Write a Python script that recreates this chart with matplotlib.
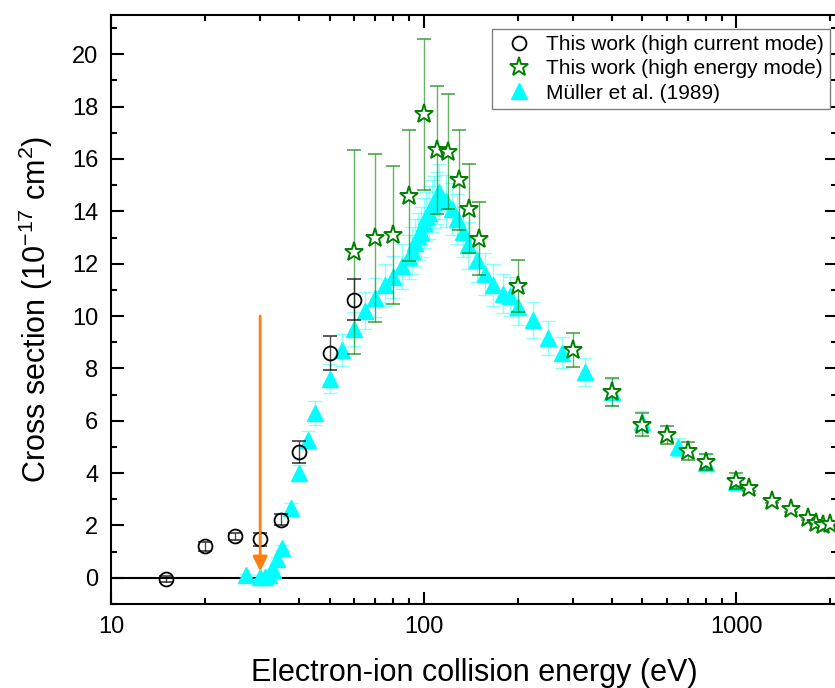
import matplotlib
matplotlib.use("Agg")
import matplotlib.pyplot as plt
from matplotlib.ticker import MultipleLocator, LogLocator, NullFormatter

plt.rcParams['font.family'] = ['Liberation Sans', 'DejaVu Sans']
plt.rcParams['mathtext.fontset'] = 'custom'
plt.rcParams['mathtext.rm'] = 'Liberation Sans'
plt.rcParams['mathtext.it'] = 'Liberation Sans:italic'

# this work, high current mode
hc_E = [15, 20, 25, 30, 35, 40, 50, 60]
hc_s = [-0.05, 1.2, 1.58, 1.48, 2.22, 4.8, 8.6, 10.62]
hc_err = [0.12, 0.18, 0.15, 0.25, 0.2, 0.42, 0.65, 0.78]

# this work, high energy mode
he_E = [60, 70, 80, 90, 100, 110, 120, 130, 140, 150, 200, 300, 400, 500, 600,
        700, 800, 1000, 1100, 1300, 1500, 1700, 1800, 1900, 2000]
he_s = [12.44, 12.98, 13.1, 14.6, 17.7, 16.35, 16.28, 15.2, 14.1, 12.95, 11.15,
        8.7, 7.1, 5.85, 5.45, 4.85, 4.43, 3.7, 3.42, 2.94, 2.63, 2.3, 2.1, 2.02, 2.05]
he_err = [3.9, 3.2, 2.65, 2.5, 2.9, 2.45, 2.2, 1.9, 1.7, 1.4, 1.0, 0.65, 0.55,
          0.45, 0.35, 0.35, 0.3, 0.3, 0.1, 0.1, 0.1, 0.1, 0.1, 0.1, 0.1]

# Muller et al. (1989)
mu_E = [27, 30, 31, 32, 33, 34, 35.3, 37.7, 40, 42.7, 45, 50, 55, 60, 65, 70, 75,
        80, 85, 90, 92, 94, 96, 98, 100, 102, 104, 106, 108, 110, 112, 118, 123,
        128, 134, 139, 148, 157, 167, 180, 189, 200, 223, 250, 278, 329, 400, 500,
        650, 800, 1000]
mu_s = [0.1, 0.05, 0.05, 0.1, 0.3, 0.7, 1.15, 2.67, 4.0, 5.27, 6.3, 7.6, 8.7, 9.5,
        10.2, 10.7, 11.2, 11.5, 11.9, 12.25, 12.5, 12.8, 13.05, 13.2, 13.55, 13.8,
        13.95, 14.2, 14.35, 14.5, 14.75, 14.4, 14.1, 13.7, 13.2, 12.7, 12.15, 11.6,
        11.2, 10.85, 10.75, 10.35, 9.85, 9.15, 8.6, 7.86, 7.1, 5.95, 5.0, 4.4, 3.66]
mu_err = [0.05, 0.05, 0.05, 0.05, 0.05, 0.08, 0.1, 0.2, 0.3, 0.35, 0.45, 0.55, 0.6,
          0.65, 0.7, 0.75, 0.8, 0.8, 0.85, 0.85, 0.9, 0.9, 0.9, 0.95, 0.95, 0.95,
          1.0, 1.0, 1.0, 1.0, 1.05, 1.0, 1.0, 0.95, 0.95, 0.9, 0.85, 0.8, 0.8, 0.75,
          0.75, 0.7, 0.7, 0.65, 0.6, 0.55, 0.5, 0.42, 0.36, 0.32, 0.27]

fig = plt.figure(figsize=(8.35, 6.88), dpi=100)
ax = fig.add_axes([0.1329, 0.1221, 0.8695, 0.8561])

ax.axhline(0, color='black', lw=1.5, zorder=1)

mu = ax.errorbar(mu_E, mu_s, yerr=mu_err, fmt='^', color='cyan', ms=12, mec='cyan',
                 ecolor=(0, 1, 1, 0.45), elinewidth=1, capsize=5, capthick=1,
                 zorder=3)
he = ax.errorbar(he_E, he_s, yerr=he_err, fmt='*', ms=14, mfc='white', mec='green',
                 mew=1.4, ecolor=(0, 0.5, 0, 0.6), elinewidth=1, capsize=5,
                 capthick=1, zorder=4)
hc = ax.errorbar(hc_E, hc_s, yerr=hc_err, fmt='o', ms=10, mfc='none', mec='black',
                 mew=1.3, ecolor=(0, 0, 0, 0.7), elinewidth=1, capsize=5,
                 capthick=1, zorder=5)

ax.annotate('', xy=(30, 0.25), xytext=(30, 10),
            arrowprops=dict(arrowstyle='-|>', color='#ff7f0e', lw=2,
                            mutation_scale=22, shrinkA=0, shrinkB=0), zorder=6)

ax.set_xscale('log')
ax.set_xlim(10, 2100)
ax.set_ylim(-1, 21.5)
ax.yaxis.set_major_locator(MultipleLocator(2))
ax.yaxis.set_minor_locator(MultipleLocator(1))
ax.xaxis.set_minor_locator(LogLocator(base=10, subs=range(2, 10)))
ax.xaxis.set_minor_formatter(NullFormatter())
ax.set_xticks([10, 100, 1000])
ax.set_xticklabels(['10', '100', '1000'])

ax.tick_params(which='both', direction='in', top=True, right=True, width=1.5,
               labelsize=17)
ax.tick_params(which='major', length=9, pad=9)
ax.tick_params(which='minor', length=4.5)
for s in ax.spines.values():
    s.set_linewidth(1.5)

ax.set_xlabel('Electron-ion collision energy (eV)', fontsize=22, labelpad=14)
ax.set_ylabel('Cross section (10$^{-17}$ cm$^2$)', fontsize=22, labelpad=12)

leg = ax.legend([hc[0], he[0], mu[0]],
                ['This work (high current mode)', 'This work (high energy mode)',
                 'Müller et al. (1989)'],
                loc='upper right', fontsize=15,
                bbox_to_anchor=(830 / 835, 1 - 29 / 688),
                bbox_transform=fig.transFigure, borderaxespad=0,
                fancybox=False, edgecolor='gray', labelspacing=0.25,
                handletextpad=0.3, borderpad=0.3, framealpha=1)
leg.get_frame().set_linewidth(1)

fig.savefig('out.png', dpi=100)
